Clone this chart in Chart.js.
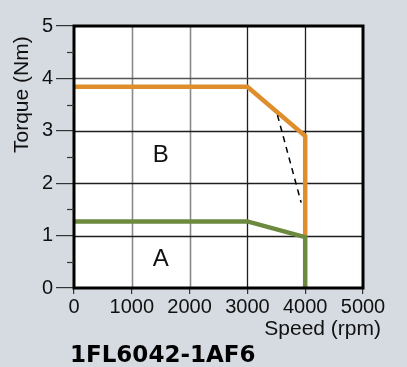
<!DOCTYPE html>
<html>
<head>
<meta charset="utf-8">
<script src="https://cdn.jsdelivr.net/npm/chart.js@4/dist/chart.umd.min.js"></script>
<style>
  html, body { margin: 0; padding: 0; background: #d6dbe2; }
  #wrap { width: 407px; height: 367px; }
</style>
</head>
<body>
<div id="wrap"><canvas id="torqueChart" width="407" height="367"></canvas></div>
<script>
// curve data
const chartTitle = "1FL6042-1AF6";
const speedS3 = [0, 3000, 4000, 4000];      // orange, B
const torqueS3 = [3.84, 3.84, 2.9, 1.0];
const speedS1 = [0, 3000, 4000, 4000];      // green, A
const torqueS1 = [1.27, 1.27, 0.97, 0];
const speedDash = [3520, 3930];
const torqueDash = [3.3, 1.63];
const regionNames = ["A", "B"];
const regionSpeed = [1500, 1500];
const regionTorque = [0.55, 2.53];
const xTicks = [0, 1000, 2000, 3000, 4000, 5000];
const yTicks = [0, 1, 2, 3, 4, 5];

const FONT = "'Liberation Sans', Arial, sans-serif";
const toPts = (xs, ys) => xs.map((x, i) => ({ x: x, y: ys[i] }));

const decor = {
  id: "decor",
  beforeDatasetsDraw(chart) {
    const { ctx, chartArea: a } = chart;
    ctx.save();
    ctx.fillStyle = "#ffffff";
    ctx.fillRect(a.left, a.top, a.right - a.left, a.bottom - a.top);
    ctx.restore();
    // gridlines over the white fill
    const xs = chart.scales.x, ys = chart.scales.y;
    ctx.save();
    xTicks.slice(1, -1).forEach(v => {
      const px = Math.round(xs.getPixelForValue(v)) + 0.5;
      ctx.strokeStyle = v < 3000 ? "#8a8a8a" : "#1e1e1e";
      ctx.lineWidth = v < 3000 ? 1.6 : 1.3;
      ctx.beginPath(); ctx.moveTo(px, a.top); ctx.lineTo(px, a.bottom); ctx.stroke();
    });
    yTicks.slice(1, -1).forEach(v => {
      const py = Math.round(ys.getPixelForValue(v)) + 0.5;
      ctx.strokeStyle = v === 4 ? "#555" : "#1e1e1e";
      ctx.lineWidth = 1.3;
      ctx.beginPath(); ctx.moveTo(a.left, py); ctx.lineTo(a.right, py); ctx.stroke();
    });
    ctx.restore();
  },
  afterDatasetsDraw(chart) {
    const { ctx, chartArea: a } = chart;
    const xs = chart.scales.x, ys = chart.scales.y;
    ctx.save();
    // frame
    ctx.strokeStyle = "#000";
    ctx.lineWidth = 3;
    ctx.strokeRect(a.left, a.top, a.right - a.left, a.bottom - a.top);
    // minor ticks on y
    ctx.lineWidth = 1.2;
    ctx.strokeStyle = "#333";
    for (let i = 0; i < yTicks.length - 1; i++) {
      const py = Math.round(ys.getPixelForValue(yTicks[i] + 0.5)) + 0.5;
      ctx.beginPath(); ctx.moveTo(a.left - 7, py); ctx.lineTo(a.left, py); ctx.stroke();
    }
    // region letters
    ctx.fillStyle = "#111";
    ctx.font = "24px " + FONT;
    ctx.textAlign = "center";
    ctx.textBaseline = "middle";
    regionNames.forEach((n, i) => {
      ctx.fillText(n, xs.getPixelForValue(regionSpeed[i]), ys.getPixelForValue(regionTorque[i]));
    });
    // axis titles
    ctx.font = "21px " + FONT;
    ctx.textAlign = "right";
    ctx.textBaseline = "alphabetic";
    ctx.fillText("Speed (rpm)", a.right + 18, 335);
    ctx.save();
    ctx.translate(28, 153);
    ctx.rotate(-Math.PI / 2);
    ctx.textAlign = "left";
    ctx.fillText("Torque (Nm)", 0, 0);
    ctx.restore();
    // chart title
    ctx.font = "bold 23px 'DejaVu Sans', sans-serif";
    ctx.textAlign = "left";
    ctx.fillStyle = "#000";
    ctx.fillText(chartTitle, 70, 362);
    ctx.restore();
  }
};

new Chart(document.getElementById("torqueChart"), {
  type: "scatter",
  data: {
    datasets: [
      {
        data: toPts(speedDash, torqueDash),
        showLine: true,
        borderColor: "#000",
        borderWidth: 1.5,
        borderDash: [6, 5],
        pointRadius: 0,
        order: 0
      },
      {
        data: toPts(speedS1, torqueS1),
        showLine: true,
        borderColor: "#6b8a3e",
        borderWidth: 4.5,
        pointRadius: 0,
        order: 1
      },
      {
        data: toPts(speedS3, torqueS3),
        showLine: true,
        borderColor: "#de8f2b",
        borderWidth: 4.5,
        pointRadius: 0,
        order: 2
      }
    ]
  },
  options: {
    responsive: false,
    animation: false,
    devicePixelRatio: 1,
    layout: { padding: { left: 0, right: 44, top: 26, bottom: 0 } },
    plugins: { legend: { display: false }, tooltip: { enabled: false } },
    scales: {
      x: {
        type: "linear",
        min: 0,
        max: 5000,
        afterBuildTicks: s => { s.ticks = xTicks.map(v => ({ value: v })); },
        afterFit: s => { s.height = 79; },
        ticks: { color: "#111", font: { family: FONT, size: 20 }, padding: 1, maxRotation: 0, callback: v => String(v) },
        grid: { drawOnChartArea: false, tickLength: 6, tickColor: "#333", lineWidth: 1.2 },
        border: { display: false }
      },
      y: {
        type: "linear",
        min: 0,
        max: 5,
        afterBuildTicks: s => { s.ticks = yTicks.map(v => ({ value: v })); },
        afterFit: s => { s.width = 74; },
        ticks: { color: "#111", font: { family: FONT, size: 20 }, padding: 3, callback: v => String(v) },
        grid: { drawOnChartArea: false, tickLength: 18, tickColor: "#333", lineWidth: 1.2 },
        border: { display: false }
      }
    }
  },
  plugins: [decor]
});
</script>
</body>
</html>
